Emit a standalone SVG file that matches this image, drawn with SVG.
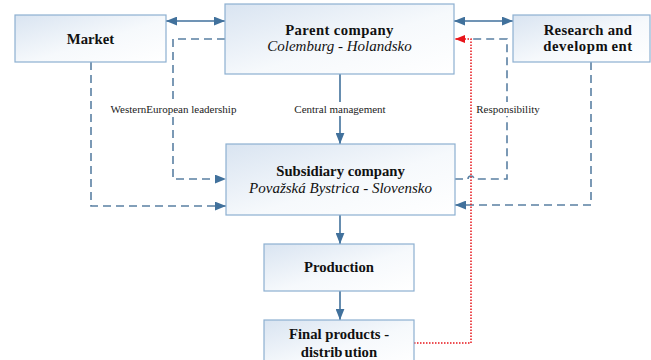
<svg xmlns="http://www.w3.org/2000/svg" width="651" height="360" viewBox="0 0 651 360" font-family="'Liberation Serif', 'DejaVu Serif', serif">
  <defs>
    <linearGradient id="boxFill" x1="0" y1="0" x2="1" y2="1">
      <stop offset="0" stop-color="#d9e4f1"/>
      <stop offset="0.55" stop-color="#f6f9fc"/>
      <stop offset="1" stop-color="#ffffff"/>
    </linearGradient>
    <marker id="arrowBlue" viewBox="0 0 10 8" refX="10" refY="4" markerWidth="11" markerHeight="9" markerUnits="userSpaceOnUse" orient="auto-start-reverse">
      <path d="M0,0 L10,4 L0,8 Z" fill="#41719c"/>
    </marker>
    <marker id="arrowRed" viewBox="0 0 10 8" refX="10" refY="4" markerWidth="10" markerHeight="9" markerUnits="userSpaceOnUse" orient="auto">
      <path d="M0,0 L10,4 L0,8 Z" fill="#e8141a"/>
    </marker>
    <style>
      .box { fill: url(#boxFill); stroke: #8db0d1; stroke-width: 1.2; }
      text { font-family: 'Liberation Serif', 'DejaVu Serif', serif; }
      .title { font-weight: bold; font-size: 14.7px; fill: #111; text-anchor: middle; }
      .sub { font-style: italic; font-size: 15px; fill: #111; text-anchor: middle; }
      .label { font-size: 11px; fill: #222; text-anchor: middle; }
      .solid { fill: none; stroke: #41719c; stroke-width: 1.6; }
      .dashed { fill: none; stroke: #5a80a3; stroke-width: 1.6; stroke-dasharray: 8 5; }
      .dotted { fill: none; stroke: #e8141a; stroke-width: 1.5; stroke-dasharray: 1.5 1.5; }
      .mask { fill: #ffffff; }
    </style>
  </defs>

  <rect width="651" height="360" fill="#ffffff"/>

  <!-- connectors -->
  <g id="connectors">
    <!-- Market <-> Parent, Parent <-> R&D -->
    <path class="solid" d="M166,21 H225" marker-start="url(#arrowBlue)" marker-end="url(#arrowBlue)"/>
    <path class="solid" d="M454,21 H513" marker-start="url(#arrowBlue)" marker-end="url(#arrowBlue)"/>
    <!-- Central management -->
    <path class="solid" d="M340,74 V144" marker-end="url(#arrowBlue)"/>
    <!-- Subsidiary -> Production -> Final products -->
    <path class="solid" d="M340,215 V244" marker-end="url(#arrowBlue)"/>
    <path class="solid" d="M340,291 V320" marker-end="url(#arrowBlue)"/>

    <!-- Market -> Subsidiary -->
    <path class="dashed" d="M91,62 V206 H226" marker-end="url(#arrowBlue)"/>
    <!-- WesternEuropean leadership: Parent -> Subsidiary -->
    <path class="dashed" d="M225,39 H173 V179 H226" marker-end="url(#arrowBlue)"/>
    <!-- R&D -> Subsidiary -->
    <path class="dashed" d="M591,62 V205 H455" marker-end="url(#arrowBlue)"/>
    <!-- Subsidiary -> Parent (hops over the red line) -->
    <path class="dashed" d="M455,179 H468 A3,3 0 0 1 474,179 H507 V39 H473"/>

    <!-- Responsibility: Final products -> Parent -->
    <path class="dotted" d="M414,343 H471 V39 H455" marker-end="url(#arrowRed)"/>

    <!-- connector labels -->
    <rect class="mask" x="109" y="102" width="129" height="14"/>
    <text class="label" x="173.5" y="113">WesternEuropean leadership</text>
    <rect class="mask" x="292" y="102" width="96" height="14"/>
    <text class="label" x="340" y="113">Central management</text>
    <rect class="mask" x="475" y="102" width="66" height="14"/>
    <text class="label" x="508" y="113">Responsibility</text>
  </g>

  <g id="market">
    <rect class="box" x="15" y="15" width="151" height="47"/>
    <text class="title" x="90.5" y="44">Market</text>
  </g>

  <g id="parent-company">
    <rect class="box" x="225" y="4" width="229" height="70"/>
    <text class="title" x="339.5" y="35" letter-spacing="0.4">Parent company</text>
    <text class="sub" x="339.5" y="51">Colemburg - Holandsko</text>
  </g>

  <g id="research-development">
    <rect class="box" x="513" y="15" width="137" height="47"/>
    <text class="title" x="588" y="35" letter-spacing="0.3">Research and</text>
    <text class="title" x="588" y="51" letter-spacing="0.6">developm<tspan dx="3">ent</tspan></text>
  </g>

  <g id="subsidiary-company">
    <rect class="box" x="226" y="144" width="229" height="71"/>
    <text class="title" x="340.5" y="176">Subsidiary company</text>
    <text class="sub" x="340.5" y="193">Považská Bystrica - Slovensko</text>
  </g>

  <g id="production">
    <rect class="box" x="264" y="244" width="150" height="47"/>
    <text class="title" x="339" y="272">Production</text>
  </g>

  <g id="final-products">
    <rect class="box" x="264" y="320" width="150" height="46"/>
    <text class="title" x="339" y="339">Final products -</text>
    <text class="title" x="339" y="357">distrib<tspan dx="2">ution</tspan></text>
  </g>
</svg>
